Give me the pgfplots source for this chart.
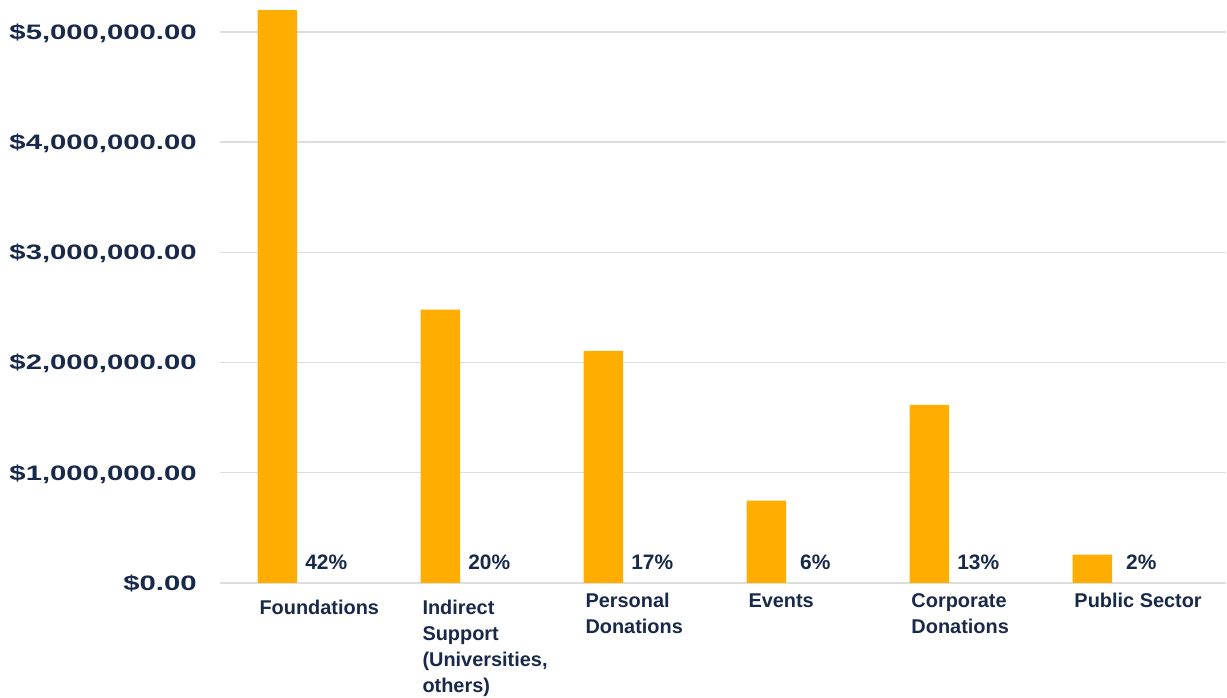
\documentclass[border=0pt]{standalone}
\usepackage{fontspec}
\setmainfont{Liberation Sans}
\newfontfamily\tickfont[FakeStretch=1.4]{Liberation Sans}
\usepackage{pgfplots}
\pgfplotsset{compat=1.18}
\usepackage{pgfplotstable}

\definecolor{navy}{HTML}{18294A}
\definecolor{barorange}{HTML}{FFAD00}
\definecolor{gridgray}{HTML}{DDDDDD}

% amounts in dollars, share in percent
\pgfplotstableread{
x amount zero pct
0 5200000 0 42
1 2480000 0 20
2 2105000 0 17
3 745000  0 6
4 1615000 0 13
5 255000  0 2
}\funding

\begin{document}
\begin{tikzpicture}
\begin{axis}[
    scale only axis,
    width=1007bp, height=583bp,
    xmin=-0.3525, xmax=5.822,
    ymin=0, ymax=5290000,
    axis line style={draw=none},
    major tick length=0pt,
    ymajorgrids,
    grid style={draw=gridgray, line width=1.5bp},
    scaled y ticks=false,
    ytick={0,1000000,2000000,3000000,4000000,5000000},
    yticklabels={{\$0.00},{\$1,000,000.00},{\$2,000,000.00},{\$3,000,000.00},{\$4,000,000.00},{\$5,000,000.00}},
    yticklabel style={anchor=base east, inner sep=0pt, xshift=-23bp, yshift=-7.5bp,
        font=\tickfont\fontsize{21}{25}\selectfont\bfseries, text=navy},
    xtick={0,1,2,3,4,5},
    xticklabels={
        {\rule{0pt}{22bp}Foundations},
        {\rule{0pt}{22bp}Indirect\\Support\\(Universities,\\others)},
        {\rule{0pt}{15bp}Personal\\Donations},
        {\rule{0pt}{15bp}Events},
        {\rule{0pt}{15bp}Corporate\\Donations},
        {\rule{0pt}{15bp}Public Sector}},
    xticklabel style={anchor=north west, inner sep=0pt, align=left, xshift=-18bp, yshift=-10bp,
        font=\fontsize{20}{26}\selectfont\bfseries, text=navy},
]
\addplot[ybar, bar width=39.5bp, bar shift=0pt, fill=barorange, draw=none]
    table[x=x, y=amount] {\funding};
\addplot[draw=none, mark=none, point meta=explicit symbolic,
    nodes near coords={\pgfplotspointmeta\%},
    nodes near coords style={anchor=base, inner sep=0pt, xshift=49bp, yshift=13bp,
        font=\fontsize{21}{25}\selectfont\bfseries, text=navy}]
    table[x=x, y=zero, meta=pct] {\funding};
\end{axis}
\path (current axis.south west) ++(-220bp,-115bp);
\path (current axis.north east);
\end{tikzpicture}
\end{document}
